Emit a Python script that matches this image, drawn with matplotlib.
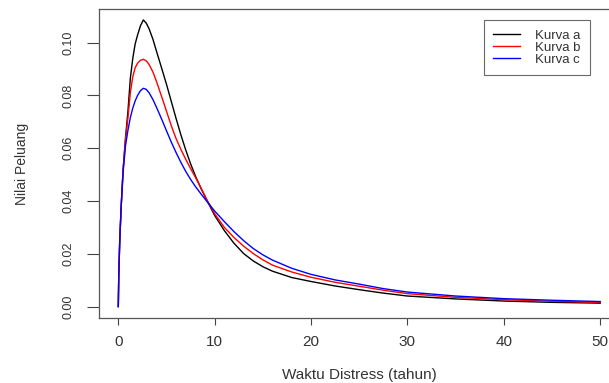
import matplotlib
matplotlib.use('Agg')
import matplotlib.pyplot as plt

plt.rcParams['font.family'] = ['Liberation Sans', 'DejaVu Sans']

# waktu (tahun) and densities
t = [0, 0.05, 0.15, 0.3, 0.5, 0.75, 1.0, 1.25, 1.5, 1.75, 2.0, 2.3, 2.6, 2.9, 3.2,
     3.6, 4.0, 4.5, 5.0, 5.5, 6.0, 6.5, 7.0, 7.5, 8.0, 8.6, 9.2, 10, 11, 12, 13,
     14, 15, 16, 18, 20, 22.5, 25, 27.5, 30, 35, 40, 45, 50]
kurva_a = [0, 0.012, 0.025, 0.038, 0.052, 0.064, 0.074, 0.0865, 0.094, 0.0995,
           0.1029, 0.1064, 0.1086, 0.1074, 0.1052, 0.1012, 0.0963, 0.0903, 0.0842,
           0.0777, 0.0712, 0.0650, 0.0593, 0.0541, 0.0495, 0.0446, 0.0402, 0.0345,
           0.0288, 0.0240, 0.0201, 0.0173, 0.0151, 0.0134, 0.0110, 0.0095, 0.0078,
           0.0064, 0.0051, 0.0040, 0.0029, 0.0021, 0.0016, 0.0013]
kurva_b = [0, 0.012, 0.025, 0.038, 0.052, 0.0635, 0.0715, 0.0810, 0.0870, 0.0905,
           0.0922, 0.0933, 0.0937, 0.0931, 0.0917, 0.0888, 0.0849, 0.0795, 0.0740,
           0.0685, 0.0636, 0.0595, 0.0558, 0.0523, 0.0490, 0.0448, 0.0404, 0.0352,
           0.0300, 0.0262, 0.0229, 0.0201, 0.0177, 0.0157, 0.0131, 0.0111, 0.0092,
           0.0077, 0.0062, 0.0049, 0.0035, 0.0026, 0.0020, 0.0016]
kurva_c = [0, 0.012, 0.025, 0.038, 0.051, 0.061, 0.0668, 0.0716, 0.0752, 0.0779,
           0.0800, 0.0818, 0.0827, 0.0823, 0.0810, 0.0784, 0.0752, 0.0710, 0.0666,
           0.0623, 0.0583, 0.0546, 0.0512, 0.0482, 0.0455, 0.0426, 0.0398, 0.0362,
           0.0322, 0.0284, 0.0250, 0.0220, 0.0196, 0.0176, 0.0145, 0.0122, 0.0101,
           0.0085, 0.0068, 0.0055, 0.0040, 0.0030, 0.0024, 0.0019]

labels = ['Kurva a', 'Kurva b', 'Kurva c']
colors = ['black', 'red', 'blue']
xticks = [0, 10, 20, 30, 40, 50]
yticks = [0.00, 0.02, 0.04, 0.06, 0.08, 0.10]

fig = plt.figure(figsize=(6.09, 3.83), dpi=100)
ax = fig.add_axes([0.1626, 0.1697, 1.0172 - 0.1626, 0.9757 - 0.1697])

for y, lab, c in zip([kurva_a, kurva_b, kurva_c], labels, colors):
    ax.plot(t, y, color=c, lw=1.0, label=lab)

ax.set_xlim(-2, 52)
ax.set_ylim(-0.00433, 0.11263)
ax.set_xticks(xticks)
ax.set_xticklabels([str(v) for v in xticks], fontsize=11, color='#333333')
ax.set_yticks(yticks)
ax.set_yticklabels(['%.2f' % v for v in yticks], fontsize=9, color='#333333',
                   rotation=90, va='center')
ax.tick_params(axis='x', length=5, width=0.8, color='#444444', pad=7)
ax.tick_params(axis='y', length=8.5, width=0.8, color='#444444', pad=9)
for s in ax.spines.values():
    s.set_color('#555555')
    s.set_linewidth(0.9)

ax.set_xlabel('Waktu Distress (tahun)', fontsize=11, color='#333333', labelpad=14)
ax.set_ylabel('Nilai Peluang', fontsize=10, color='#333333', labelpad=24)

leg = ax.legend(loc='upper left', bbox_to_anchor=(0.7397, 0.965), fontsize=9.5,
                frameon=True, fancybox=False, handlelength=2.0, handletextpad=1.2,
                labelspacing=0.0, borderpad=0.7, borderaxespad=0)
leg.get_frame().set_edgecolor('#444444')
leg.get_frame().set_linewidth(0.8)
for txt in leg.get_texts():
    txt.set_color('#333333')

fig.savefig('out.png', dpi=100)
